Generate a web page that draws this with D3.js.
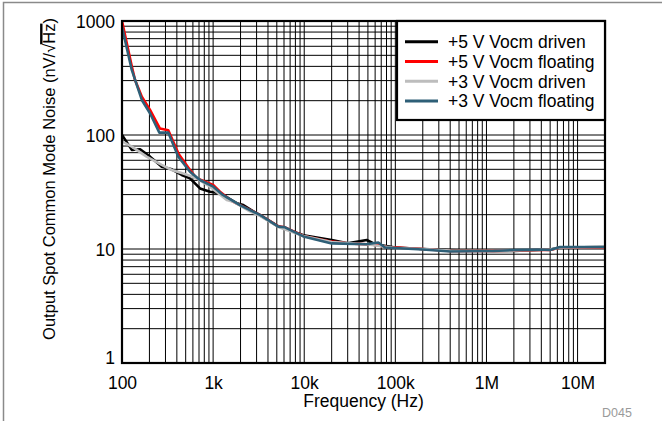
<!DOCTYPE html>
<html><head><meta charset="utf-8">
<script src="https://cdn.jsdelivr.net/npm/d3@7"></script>
<style>html,body{margin:0;padding:0;background:#fff;}svg{display:block;}</style>
</head><body><svg id="c" width="662" height="421"></svg>
<script>
// ---- data ----
const xTickValues = [100, 1e3, 1e4, 1e5, 1e6, 1e7];
const xTickLabels = ["100", "1k", "10k", "100k", "1M", "10M"];
const yTickValues = [1, 10, 100, 1000];
const yTickLabels = ["1", "10", "100", "1000"];
const seriesNames = ["+5 V Vocm driven", "+5 V Vocm floating", "+3 V Vocm driven", "+3 V Vocm floating"];

const freq5Driven = [100, 128, 158, 203, 273, 351, 452, 557, 718, 925, 1190, 1813, 2145, 3270, 5200, 9800, 20000, 30000, 48500, 60000, 100000, 200000, 400000, 1.2e6, 2e6, 5e6, 6.4e6, 2e7];
const val5Driven  = [100, 74, 75, 64.6, 52.7, 50, 44.6, 41.7, 34, 31.8, 30.8, 25.2, 24.3, 19.7, 15.8, 13.2, 12.0, 11.2, 12.0, 11.0, 10.3, 10.0, 9.8, 9.6, 9.6, 9.9, 10.3, 10.4];

const freq5Float = [100, 128, 139, 165, 203, 261, 322, 415, 557, 660, 1000, 1190, 1650, 2540, 3270, 5200, 6150, 9800, 20000, 30000, 48000, 65000, 80000, 200000, 400000, 1.2e6, 2e6, 3.6e6, 5e6, 6.4e6, 1e7, 2e7];
const val5Float  = [1000, 400, 304, 217, 166, 114, 110, 69, 49.3, 41.7, 36.4, 31.8, 26, 22, 19.9, 15.8, 15.5, 13, 11.6, 11.2, 11, 10.8, 10.4, 10.0, 9.6, 9.6, 9.7, 9.8, 9.8, 10.3, 10.3, 10.3];

const freq3Driven = [100, 128, 186, 273, 351, 470, 660, 925, 1410, 1665, 2500, 3270, 5200, 9800, 20000, 48000, 100000, 200000, 400000, 1.2e6, 2e6, 5e6, 6.4e6, 2e7];
const val3Driven  = [88, 79, 64.6, 54.6, 49.3, 46, 41.7, 35.2, 26.9, 26, 21.5, 19.5, 15.6, 13, 11.5, 11.0, 10.2, 10.0, 9.7, 9.6, 9.7, 9.9, 10.3, 10.4];

const freq3Float = [100, 128, 165, 203, 257, 322, 415, 557, 718, 1005, 1280, 1970, 3270, 5200, 6150, 9800, 20000, 48000, 65000, 77000, 200000, 400000, 1.2e6, 2e6, 3.6e6, 5e6, 6.4e6, 1e7, 2e7];
const val3Float  = [890, 372, 203, 155, 105, 105, 64.6, 47.6, 40.3, 35.2, 29.8, 24.3, 19.9, 15.7, 15.5, 12.9, 11.2, 11.0, 11.4, 10.3, 9.9, 9.5, 9.6, 9.8, 9.9, 9.8, 10.4, 10.4, 10.4];

const seriesColors = ["#000000", "#ff0000", "#bdbdbd", "#2e5f77"];
const xTitle = "Frequency (Hz)";
const yTitle = "Output Spot Common Mode Noise (nV/\u221AHz)";
const noteText = "D045";

// ---- layout ----
const svg = d3.select("#c");
const L = 122, R = 605, T = 21, B = 363;
const FS = 17.5, FSY = 16.5;
const FONT = "Liberation Sans, Arial, Helvetica, sans-serif";

const x = d3.scaleLog().domain([100, 2e7]).range([L, R]);
const y = d3.scaleLog().domain([1, 1000]).range([B, T]);

// outer frame (top + left visible)
svg.append("rect").attr("x", 3.5).attr("y", 2.5).attr("width", 700).attr("height", 500)
  .attr("fill", "none").attr("stroke", "#8a8a8a").attr("stroke-width", 1.5);

// grid
const gx = [], gy = [];
for (let d = 100; d < 2e7; d *= 10) for (let m = 1; m <= 9; m++) { const v = d * m; if (v > 100 && v < 2e7) gx.push(v); }
for (let d = 1; d < 1000; d *= 10) for (let m = 1; m <= 9; m++) { const v = d * m; if (v > 1 && v < 1000) gy.push(v); }
const grid = svg.append("g").attr("stroke", "#000").attr("stroke-width", 1);
grid.selectAll("line.v").data(gx).join("line").attr("class", "v")
  .attr("x1", d => x(d)).attr("x2", d => x(d)).attr("y1", T).attr("y2", B);
grid.selectAll("line.h").data(gy).join("line").attr("class", "h")
  .attr("y1", d => y(d)).attr("y2", d => y(d)).attr("x1", L).attr("x2", R);

// series
const series = [
  {f: freq5Driven, v: val5Driven},
  {f: freq5Float, v: val5Float},
  {f: freq3Driven, v: val3Driven},
  {f: freq3Float, v: val3Float}
];
const line = d3.line().x(d => x(d[0])).y(d => y(d[1]));
svg.append("clipPath").attr("id", "pc").append("rect")
  .attr("x", L).attr("y", T).attr("width", R - L).attr("height", B - T);
svg.append("g").attr("clip-path", "url(#pc)").selectAll("path").data(series).join("path")
  .attr("d", s => line(d3.zip(s.f, s.v)))
  .attr("fill", "none").attr("stroke", (s, i) => seriesColors[i])
  .attr("stroke-width", 2.6).attr("stroke-linejoin", "round");

// plot frame
svg.append("rect").attr("x", L).attr("y", T).attr("width", R - L).attr("height", B - T)
  .attr("fill", "none").attr("stroke", "#000").attr("stroke-width", 2.2);

// axes
const xa = svg.append("g").attr("transform", `translate(0,${B + 4})`)
  .call(d3.axisBottom(x).tickValues(xTickValues).tickFormat((d, i) => xTickLabels[i]).tickSize(0));
xa.select(".domain").remove();
xa.selectAll("text").attr("font-size", FS).attr("font-family", FONT).attr("fill", "#000").attr("dy", "1.08em");

const ya = svg.append("g").attr("transform", `translate(${L - 7},0)`)
  .call(d3.axisLeft(y).tickValues(yTickValues).tickFormat((d, i) => yTickLabels[i]).tickSize(0).tickPadding(0));
ya.select(".domain").remove();
ya.selectAll("text").attr("font-size", FS).attr("font-family", FONT).attr("fill", "#000")
  .attr("dy", d => d === 1 ? "0.05em" : "0.36em");

// titles
svg.append("text").attr("x", (L + R) / 2).attr("y", 407).attr("text-anchor", "middle")
  .attr("font-size", FS).attr("font-family", FONT).text(xTitle);

const yt = svg.append("g").attr("transform", "translate(55,179) rotate(-90)");
const ytxt = yt.append("text").attr("text-anchor", "middle").attr("font-size", FSY)
  .attr("font-family", FONT).text(yTitle);
{
  const n = ytxt.node();
  const total = n.getComputedTextLength();
  const idx = yTitle.indexOf("Hz");
  const s0 = n.getSubStringLength(0, idx);
  const w = n.getSubStringLength(idx, 2);
  const x0 = -total / 2 + s0;
  yt.append("line").attr("x1", x0 - 0.5).attr("x2", x0 + w).attr("y1", -FSY * 0.83).attr("y2", -FSY * 0.83)
    .attr("stroke", "#000").attr("stroke-width", 2.4);
}

svg.append("text").attr("x", 602).attr("y", 417).attr("font-size", 12.5).attr("font-family", FONT)
  .attr("fill", "#9a9a9a").text(noteText);

// legend
const lg = svg.append("g");
lg.append("rect").attr("x", 397).attr("y", T).attr("width", R - 397).attr("height", 99)
  .attr("fill", "#fff").attr("stroke", "#000").attr("stroke-width", 2.2);
const rows = lg.selectAll("g.r").data(seriesNames).join("g").attr("class", "r")
  .attr("transform", (d, i) => `translate(0,${41.7 + i * 19.8})`);
rows.append("line").attr("x1", 405).attr("x2", 438).attr("y1", 0).attr("y2", 0)
  .attr("stroke", (d, i) => seriesColors[i]).attr("stroke-width", 3);
rows.append("text").attr("x", 448).attr("dy", "0.36em").attr("font-size", FS)
  .attr("font-family", FONT).text(d => d);
</script></body></html>
